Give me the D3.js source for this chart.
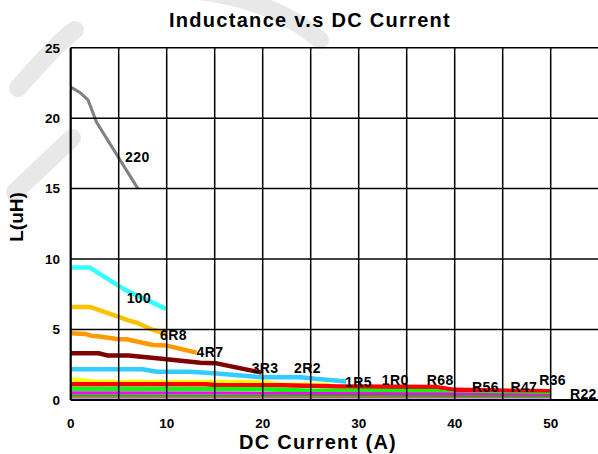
<!DOCTYPE html>
<html>
<head>
<meta charset="utf-8">
<script src="https://cdn.jsdelivr.net/npm/d3@7"></script>
<style>
  body { margin: 0; background: #fff; }
  text { font-family: Arial, "Liberation Sans", sans-serif; font-weight: bold; fill: #000; }
</style>
</head>
<body>
<script>
// ----- data -----
const seriesNames = ["220", "100", "6R8", "4R7", "3R3", "2R2", "1R5", "1R0", "R68", "R56", "R47", "R36", "R22"];

const L220 = [[0, 22.2], [1, 21.8], [1.8, 21.3], [2.7, 19.7], [7, 15.0]];
const L100 = [[0, 9.4], [2, 9.4], [5, 8.1], [6, 7.7], [10, 6.45]];
const L6R8 = [[0, 6.6], [2, 6.6], [5, 5.9], [6, 5.65], [7, 5.45], [8.6, 4.97], [10, 4.7]];
const L4R7 = [[0, 4.74], [1.5, 4.69], [2.2, 4.55], [3, 4.5], [5, 4.31], [5.8, 4.31], [6.9, 4.15], [8.6, 3.9], [10, 3.86], [13.1, 3.36]];
const L3R3 = [[0, 3.32], [2.9, 3.32], [3.9, 3.15], [6, 3.15], [7.9, 3.03], [10, 2.89], [13.5, 2.65], [15.2, 2.6], [19.9, 1.94]];
const L2R2 = [[0, 2.18], [7.5, 2.18], [9, 2.01], [12.4, 2.01], [14.9, 1.9], [19.9, 1.61], [24, 1.61], [25.5, 1.5], [28.7, 1.32]];
const L1R5 = [[0, 1.47], [2.5, 1.3], [15, 1.28], [20, 1.25], [22, 1.1], [27, 1.07]];
const L1R0 = [[0, 1.12], [14, 1.12], [15.5, 1.05], [22, 1.05], [28, 0.95], [38, 0.92], [40, 0.72], [50, 0.62]];
const LR68 = [[0, 0.78], [20, 0.76], [25, 0.66], [38, 0.62], [40, 0.42], [50, 0.38]];
const LR56 = [[0, 0.52], [15, 0.5], [25, 0.47], [40, 0.42], [50, 0.32]];
const LR47 = [[0, 0.34], [25, 0.32], [50, 0.25]];
const LR36 = [[0, 0.2], [50, 0.18]];
const LR22 = [[0, 0.08], [50, 0.08]];

const seriesValues = [L220, L100, L6R8, L4R7, L3R3, L2R2, L1R5, L1R0, LR68, LR56, LR47, LR36, LR22];

// where each part-number tag sits, in (A, uH)
const labelCurrent = [5.66, 5.83, 9.3, 13.1, 18.85, 23.26, 28.57, 32.4, 37.1, 41.8, 45.8, 48.8, 52.0];
const labelInduct  = [16.9, 6.9, 4.26, 3.06, 1.92, 1.94, 0.95, 1.07, 1.07, 0.59, 0.59, 1.07, 0.05];

const xTicks = [0, 10, 20, 30, 40, 50];
const xGrid = [0, 5, 10, 15, 20, 25, 30, 35, 40, 45, 50];
const yTicks = [0, 5, 10, 15, 20, 25];

// ----- styles -----
const seriesColors = ["#808080", "#33FFFF", "#FFC000", "#FF9900", "#800000", "#33CCFF", "#FFFF00",
                      "#FF0000", "#00FF00", "#FF00FF", "#339933", "#808000", "#CC99FF"];
const seriesWidth = [3, 4.5, 4.5, 4.5, 4.5, 4.5, 4.5, 4.5, 4.5, 3, 2, 2, 2];

const W = 598, H = 454;
const plotLeft = 70.7, plotTop = 47.7, plotBottom = 400;

const svg = d3.select("body").append("svg")
    .attr("width", W)
    .attr("height", H);

// scales
const x = d3.scaleLinear().domain([0, 55]).range([plotLeft, plotLeft + 9.6 * 55]);
const y = d3.scaleLinear().domain([0, 25]).range([plotBottom, plotTop]);

// faint watermark behind the chart
const wm = svg.append("g")
    .attr("fill", "none")
    .attr("stroke", "#e8e8e8")
    .attr("stroke-width", 18)
    .attr("stroke-linecap", "round");
wm.append("path").attr("d", "M18,88 Q60,40 75,30");
wm.append("path").attr("d", "M120,-10 Q250,-20 320,40");
wm.append("path").attr("d", "M15,192 L72,138");

// series lines
const line = d3.line()
    .x(d => x(d[0]))
    .y(d => y(d[1]));

svg.append("g").selectAll("path")
    .data(seriesValues)
    .enter()
    .append("path")
    .attr("d", d => line(d))
    .attr("fill", "none")
    .attr("stroke", (d, i) => seriesColors[i])
    .attr("stroke-width", (d, i) => seriesWidth[i])
    .attr("stroke-linejoin", "round");

// grid, drawn over the curves like the original
const grid = svg.append("g").attr("stroke", "#000");

grid.selectAll(".vgrid")
    .data(xGrid)
    .enter()
    .append("line")
    .attr("class", "vgrid")
    .attr("x1", d => x(d)).attr("x2", d => x(d))
    .attr("y1", y(0)).attr("y2", y(25))
    .attr("stroke-width", d => d === 0 ? 2.2 : 1.5);

grid.selectAll(".hgrid")
    .data(yTicks)
    .enter()
    .append("line")
    .attr("class", "hgrid")
    .attr("x1", x(0)).attr("x2", W)
    .attr("y1", d => y(d)).attr("y2", d => y(d))
    .attr("stroke-width", d => d === 0 ? 2 : 1.5);

// tick labels
svg.append("g").selectAll("text")
    .data(yTicks)
    .enter()
    .append("text")
    .attr("x", 60)
    .attr("y", d => y(d))
    .attr("dy", "0.36em")
    .attr("text-anchor", "end")
    .style("font-size", "13.5px")
    .text(d => d);

svg.append("g").selectAll("text")
    .data(xTicks)
    .enter()
    .append("text")
    .attr("x", d => x(d))
    .attr("y", 428)
    .attr("text-anchor", "middle")
    .style("font-size", "13.5px")
    .text(d => d);

// part-number tags
svg.append("g").selectAll("text")
    .data(seriesNames)
    .enter()
    .append("text")
    .attr("x", (d, i) => x(labelCurrent[i]))
    .attr("y", (d, i) => y(labelInduct[i]))
    .style("font-size", "14px")
    .style("letter-spacing", "0.4px")
    .text(d => d);

// titles
svg.append("text")
    .attr("x", 310)
    .attr("y", 27)
    .attr("text-anchor", "middle")
    .style("font-size", "20px")
    .style("letter-spacing", "1.3px")
    .text("Inductance v.s DC Current");

svg.append("text")
    .attr("x", 318)
    .attr("y", 449)
    .attr("text-anchor", "middle")
    .style("font-size", "20px")
    .style("letter-spacing", "1.3px")
    .text("DC Current (A)");

svg.append("text")
    .attr("transform", "translate(23,217) rotate(-90)")
    .attr("text-anchor", "middle")
    .style("font-size", "19px")
    .text("L(uH)");
</script>
</body>
</html>
